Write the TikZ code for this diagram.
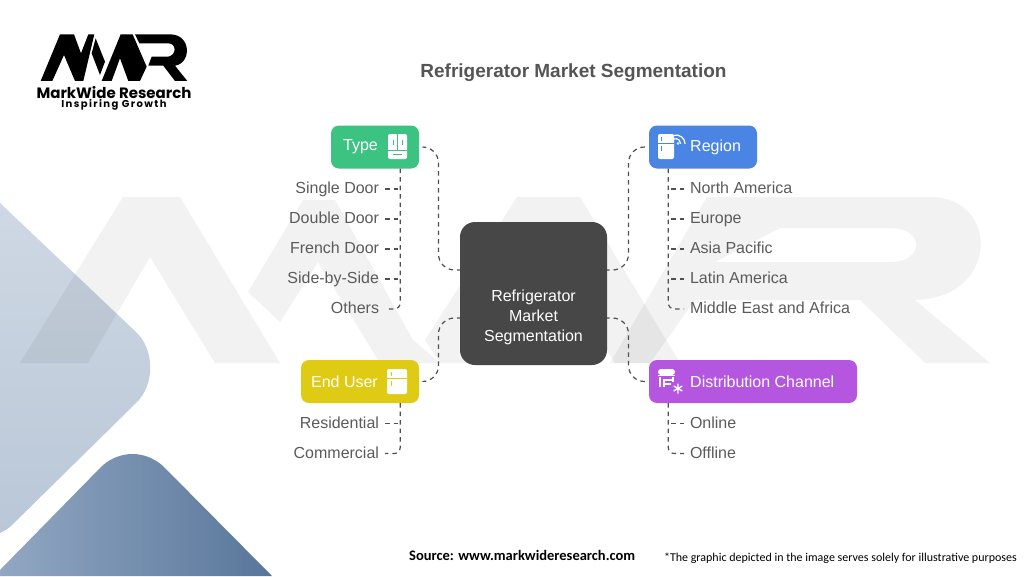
\documentclass[tikz,border=0pt]{standalone}
\usepackage{fontspec}
\setmainfont{Liberation Sans}
\newfontfamily\logofont{Poppins}
\newfontfamily\logosub[LetterSpace=14]{Poppins}
\newfontfamily\notefont{Carlito}
\usetikzlibrary{calc}
\definecolor{hubgray}{HTML}{474747}
\definecolor{typegreen}{HTML}{3CC382}
\definecolor{regionblue}{HTML}{4A85E4}
\definecolor{useryellow}{HTML}{E0CB14}
\definecolor{distpurple}{HTML}{B556E0}
\definecolor{leafgray}{HTML}{5B5B5B}
\definecolor{linegray}{HTML}{505050}
\definecolor{titlegray}{HTML}{555555}
\definecolor{bigtop}{HTML}{CFD8E4}
\definecolor{bigbot}{HTML}{B9C7D7}
\definecolor{smallleft}{HTML}{92A7C3}
\definecolor{smallright}{HTML}{58769A}
\tikzset{
  catbox/.style={draw=none,rounded corners=8pt,minimum height=43pt,inner sep=0pt,text=white,font=\fontsize{16}{19}\selectfont},
  hubbox/.style={fill=hubgray,rounded corners=15pt,minimum width=147pt,minimum height=143pt,inner sep=0pt},
  catlabel/.style={inner sep=0pt,text=white,font=\fontsize{16}{19}\selectfont},
  leafl/.style={anchor=east,inner sep=0pt,outer sep=0pt,text=leafgray,font=\fontsize{16}{19}\selectfont,text height=12pt,text depth=3pt},
  leafr/.style={anchor=west,inner sep=0pt,outer sep=0pt,text=leafgray,font=\fontsize{16}{19}\selectfont,text height=12pt,text depth=3pt},
  conn/.style={draw=linegray,line width=1.2pt,dash pattern=on 4.5pt off 4pt},
  icon/.style={fill=white,draw=none},
  wm/.style={fill=black,fill opacity=0.05,draw=none},
  logoshape/.style={fill=black,draw=none}
}
\begin{document}
\begin{tikzpicture}[x=1pt,y=-1pt]
\useasboundingbox (0,0) rectangle (1024,576);
\fill[white] (0,0) rectangle (1024,576);
% decorative shapes
\shade[top color=bigtop,bottom color=bigbot]
  (0,203) -- (136,332) .. controls (155,350) and (155,385) .. (136,403) -- (12,525) .. controls (8,529) and (4,531) .. (0,533) -- cycle;
\shade[left color=smallleft,right color=smallright]
  (0,576) -- (0,570) -- (102,466) .. controls (120,450) and (145,450) .. (163,466) -- (272,576) -- cycle;
% watermark
\path[wm] (20,363) -- (123,197) -- (180,197) -- (280,363) -- (215,363) -- (150,257) -- (88,363) -- cycle;
\path[wm] (248,292) -- (303,200) -- (335,200) -- (413,340) -- (440,363) -- (380,363) -- (318,262) -- (280,322) -- cycle;
\path[wm] (425,340) -- (517,197) -- (580,197) -- (680,363) -- (615,363) -- (548,258) -- (470,363) -- (440,363) -- cycle;
\path[wm,even odd rule] (650,363) -- (610,363) -- (707,197) -- (930,197) .. controls (1000,197) and (1000,298) .. (915,300) -- (990,363) -- (925,363) -- (860,300) -- (695,300) -- cycle
  (780,228) -- (715,262) -- (890,262) .. controls (925,262) and (925,228) .. (890,228) -- cycle;
% logo
\begin{scope}[x=0.3333pt,y=-0.3333pt]
\path[logoshape] (122,243) -- (180,103) -- (222,103) -- (243,160) -- (265,103) -- (283,103) -- (250,243) -- (225,243) -- (192,165) -- (157,243) -- cycle;
\path[logoshape] (287,115) -- (315,185) -- (300,225) -- (275,160) -- cycle;
\path[logoshape] (305,243) -- (362,103) -- (398,103) -- (440,200) -- (420,243) -- (385,243) -- (360,175) -- (335,243) -- cycle;
\path[logoshape] (405,103) -- (510,103) .. controls (575,103) and (575,190) .. (525,197) -- (562,243) -- (525,243) -- (490,197) -- (445,197) -- (455,170) -- (505,170) .. controls (530,165) and (530,130) .. (505,130) -- (418,130) -- cycle;
\end{scope}
\node[inner sep=0pt] (logoname) at (114,93) {\logofont\bfseries\fontsize{15}{18}\selectfont MarkWide Research};
\node[inner sep=0pt] (logotag) at (114,105) {\logosub\fontsize{10}{12}\selectfont\bfseries Inspiring Growth};
% title
\node[inner sep=0pt,text=titlegray] (title) at (573.5,73) {\bfseries\fontsize{19}{23}\selectfont Refrigerator Market Segmentation};
% hub
\node[hubbox,align=center,text=white] (hub) at (533.5,293.5) {};
\node[inner sep=0pt,align=center,text=white,font=\fontsize{16}{20}\selectfont] (hubtext) at (533.5,317) {Refrigerator\\Market\\Segmentation};
% category boxes
\node[catbox,fill=typegreen,minimum width=88pt] (type) at (375,147) {};
\node[catbox,fill=regionblue,minimum width=108pt] (region) at (703,147) {};
\node[catbox,fill=useryellow,minimum width=118pt] (user) at (360,381.5) {};
\node[catbox,fill=distpurple,minimum width=208pt] (dist) at (753,381.5) {};
\node[catlabel,anchor=east] (typelab) at (378,147) {Type};
\node[catlabel,anchor=west] (regionlab) at (690,147) {Region};
\node[catlabel,anchor=east] (userlab) at (378,381.5) {End User};
\node[catlabel,anchor=west] (distlab) at (690,381.5) {Distribution Channel};
% icons
\fill[icon,rounded corners=2pt] (388,134) rectangle (407,159);
\draw[typegreen,line width=1pt] (388,150) -- (407,150);
\draw[typegreen,line width=1pt] (397.5,134) -- (397.5,150);
\draw[typegreen,line width=1pt] (393,140) -- (393,145) (402,140) -- (402,145);
\draw[typegreen,line width=1pt] (393,154.5) -- (402,154.5);
\fill[icon,rounded corners=2pt] (658,134) rectangle (674,159);
\draw[regionblue,line width=1pt] (658,143) -- (674,143);
\draw[regionblue,line width=1pt] (661,137) -- (661,140.5) (661,146) -- (661,151);
\draw[white,line width=1.2pt] (673,135.5) arc[start angle=110,end angle=0,radius=9pt];
\draw[white,line width=1.2pt] (674,139) arc[start angle=110,end angle=0,radius=5pt];
\fill[white] (678,143.5) circle (1.4pt);
\fill[icon,rounded corners=2pt] (387,369) rectangle (407,394);
\draw[useryellow,line width=1pt] (387,378) -- (407,378);
\draw[useryellow,line width=1pt] (391,372) -- (391,375.5) (391,381) -- (391,386);
\fill[icon,rounded corners=3pt] (658,375) -- (658,369) -- (675,369) -- (675,375) -- cycle;
\draw[white,line width=1.3pt] (660,377) -- (660,387) (673,377) -- (673,382);
\draw[white,line width=1.3pt] (658,375.5) -- (675,375.5);
\draw[white,line width=1.3pt] (664,387) -- (664,380) -- (672,380);
\draw[white,line width=1.3pt] (664,384) -- (671,384);
\draw[white,line width=1.4pt] (678,383.5) -- (678,393.5) (673.7,386) -- (682.3,391) (673.7,391) -- (682.3,386);
% leaves left
\node[leafl] (l1) at (379,189) {Single Door};
\node[leafl] (l2) at (379,219) {Double Door};
\node[leafl] (l3) at (379,249) {French Door};
\node[leafl] (l4) at (379,279) {Side-by-Side};
\node[leafl] (l5) at (379,309) {Others};
\node[leafl] (u1) at (379,423.5) {Residential};
\node[leafl] (u2) at (379,453.5) {Commercial};
\node[leafr] (r1) at (690,189) {North America};
\node[leafr] (r2) at (690,219) {Europe};
\node[leafr] (r3) at (690,249) {Asia Pacific};
\node[leafr] (r4) at (690,279) {Latin America};
\node[leafr] (r5) at (690,309) {Middle East and Africa};
\node[leafr] (d1) at (690,423.5) {Online};
\node[leafr] (d2) at (690,453.5) {Offline};
% anchor points on boxes
\coordinate (typeT) at ([xshift=-19pt]type.south east);
\coordinate (userT) at ([xshift=-19pt]user.south east);
\coordinate (regionT) at ([xshift=19.5pt]region.south west);
\coordinate (distT) at ([xshift=19.5pt]dist.south west);
\coordinate (hubNW) at ([yshift=23.5pt]hub.west);
\coordinate (hubSW) at ([yshift=-24.5pt]hub.west);
\coordinate (hubNE) at ([yshift=23.5pt]hub.east);
\coordinate (hubSE) at ([yshift=-24.5pt]hub.east);
% main connectors
\draw[conn,rounded corners=16pt] ([xshift=4pt]type.east) -- (438.5,147) -- (438.5,270) -- (hubNW);
\draw[conn,rounded corners=16pt] ([xshift=-4pt]region.west) -- (628.5,147) -- (628.5,270) -- (hubNE);
\draw[conn,rounded corners=16pt] ([xshift=4pt]user.east) -- (438.5,381.5) -- (438.5,318) -- (hubSW);
\draw[conn,rounded corners=16pt] ([xshift=-4pt]dist.west) -- (628.5,381.5) -- (628.5,318) -- (hubSE);
% branches
\draw[conn,rounded corners=6pt] (typeT) |- ([xshift=6pt]l5.east);
\foreach \n in {l1,l2,l3,l4} \draw[conn] ([xshift=6pt]\n.east) -- (\n.east -| typeT);
\draw[conn,rounded corners=6pt] (userT) |- ([xshift=6pt]u2.east);
\draw[conn] ([xshift=6pt]u1.east) -- (u1.east -| userT);
\draw[conn,rounded corners=6pt] (regionT) |- ([xshift=-6pt]r5.west);
\foreach \n in {r1,r2,r3,r4} \draw[conn] ([xshift=-6pt]\n.west) -- (\n.west -| regionT);
\draw[conn,rounded corners=6pt] (distT) |- ([xshift=-6pt]d2.west);
\draw[conn] ([xshift=-6pt]d1.west) -- (d1.west -| distT);
% footer
\node[inner sep=0pt,anchor=west] (source) at (409,555) {\notefont\bfseries\fontsize{14.5}{17}\selectfont Source: www.markwideresearch.com};
\node[inner sep=0pt,anchor=east] (note) at (1017,558) {\notefont\fontsize{12}{14}\selectfont *The graphic depicted in the image serves solely for illustrative purposes};
\end{tikzpicture}
\end{document}
